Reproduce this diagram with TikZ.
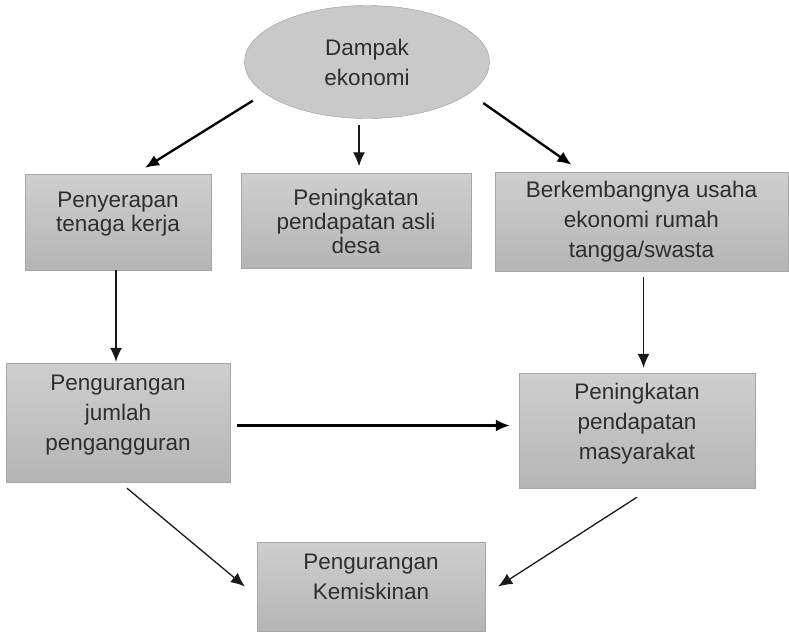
\documentclass[tikz,border=0pt]{standalone}
\usepackage{fontspec}
\setmainfont{Liberation Sans}
\usetikzlibrary{shapes.geometric,arrows.meta,calc}

\tikzset{
  kotak/.style={draw=black!35, top color=black!19, bottom color=black!29, align=center, text=black!82, inner sep=0pt},
  naik/.style={text depth=20pt},
  rapat/.style={font=\fontsize{22.5}{24}\selectfont},
  panah/.style={-{Latex[length=14pt,width=12pt]}, line width=1.3pt, draw=black!90},
  tebal/.style={line width=2.3pt, draw=black},
}

\begin{document}
\begin{tikzpicture}[x=1pt,y=-1pt,font=\fontsize{22.5}{30}\selectfont]
\useasboundingbox (0,0) rectangle (789,632);
\node[ellipse,draw=black!40,fill=black!21,text=black!82,minimum width=245pt,minimum height=113pt,align=center,inner sep=0pt] (eko) at (367,62) {Dampak\\ekonomi}; % Dampak ekonomi
% Baris atas
\node[kotak,rapat,text depth=21pt,minimum width=186pt,minimum height=96pt] (serap) at (118,222) {Penyerapan\\tenaga kerja};
\node[kotak,rapat,minimum width=230pt,minimum height=95pt] (asli) at (356,221) {Peningkatan\\pendapatan asli\\desa};
\node[kotak,minimum width=293pt,minimum height=99pt] (usaha) at (641.5,221.5) {Berkembangnya usaha\\ekonomi rumah\\tangga/swasta};
% Baris tengah dan bawah
\node[kotak,naik,minimum width=224pt,minimum height=119pt] (nganggur) at (118,422.5) {Pengurangan\\jumlah\\pengangguran};
\node[kotak,naik,text depth=18pt,minimum width=236pt,minimum height=115pt] (masyarakat) at (637,430.5) {Peningkatan\\pendapatan\\masyarakat};
\node[kotak,naik,minimum width=228pt,minimum height=89pt] (miskin) at (371,586.5) {Pengurangan\\Kemiskinan};
% Panah
\draw[panah,tebal,shorten <=14pt] (eko.197) -- ($(serap.north)+(27,-6)$);
\draw[panah] ($(eko.south)+(-8,6)$) -- ($(asli.north)+(3,-7)$);
\draw[panah,tebal,shorten <=17pt] (eko.343) -- ($(usaha.north)+(-70,-7)$);
\draw[panah] ($(serap.south)+(-2,0)$) -- ($(serap.south |- nganggur.north)+(-2,-1)$);
\draw[panah] ($(usaha.south)+(2,6)$) -- ($(usaha.south |- masyarakat.north)+(2,-5)$);
\draw[panah,tebal] ($(nganggur.east)+(7,3)$) -- ($(masyarakat.west)+(-9,-5)$);
\draw[panah] ($(nganggur.south)+(9,6)$) -- ($(miskin.west)+(-12,0)$);
\draw[panah] ($(masyarakat.south)+(0,9)$) -- ($(miskin.east)+(13,0)$);
\end{tikzpicture}
\end{document}
